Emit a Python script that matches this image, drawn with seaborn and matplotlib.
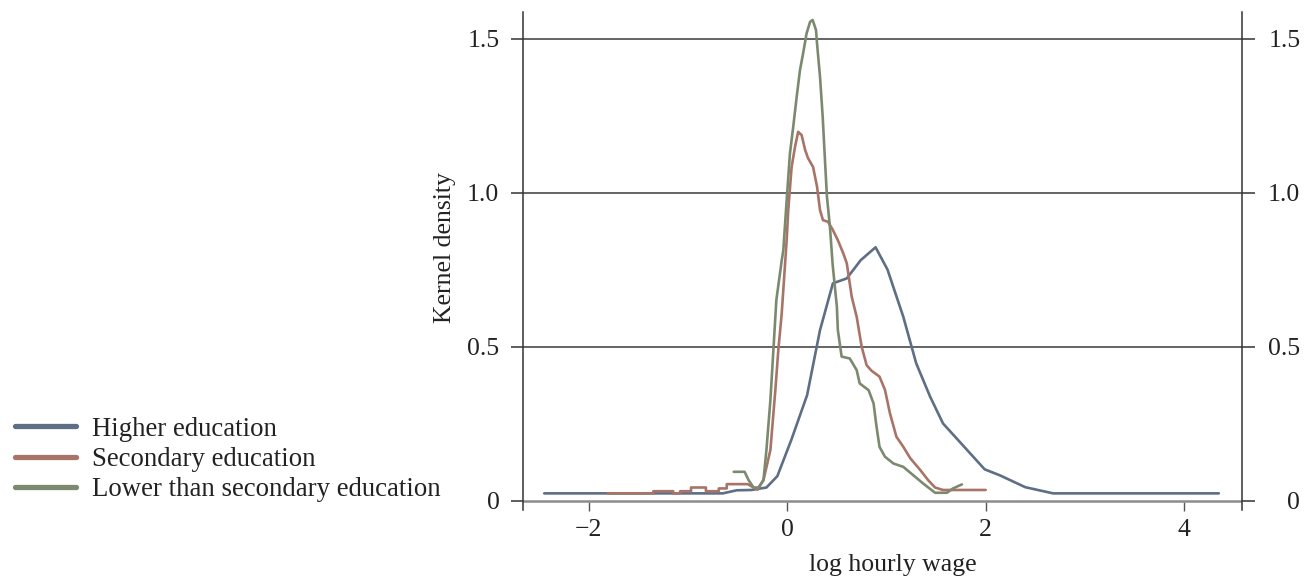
import matplotlib
matplotlib.use("Agg")
import numpy as np
import pandas as pd
import matplotlib.pyplot as plt
import seaborn as sns

# values
groups = ["Higher education", "Secondary education", "Lower than secondary education"]
colors = ["#5d6e85", "#a87468", "#7b8a6e"]

higher_x = [-2.45, -0.65, -0.51, -0.36, -0.21, -0.10, 0.04, 0.20, 0.33, 0.46, 0.60,
            0.74, 0.89, 1.01, 1.17, 1.30, 1.44, 1.57, 1.99, 2.14, 2.40, 2.68, 4.35]
higher_y = [0.024, 0.024, 0.034, 0.035, 0.043, 0.080, 0.197, 0.343, 0.554, 0.706, 0.722,
            0.781, 0.823, 0.751, 0.597, 0.446, 0.338, 0.251, 0.102, 0.083, 0.044, 0.024, 0.024]

secondary_x = [-1.81, -1.35, -1.35, -1.15, -1.15, -1.08, -1.08, -0.97, -0.97, -0.82,
               -0.82, -0.69, -0.69, -0.61, -0.61, -0.40, -0.30, -0.24, -0.17, -0.12,
               -0.09, -0.056, -0.006, 0.01, 0.044, 0.078, 0.11, 0.145, 0.18, 0.21,
               0.26, 0.30, 0.33, 0.36, 0.41, 0.46, 0.51, 0.565, 0.60, 0.65, 0.70,
               0.75, 0.80, 0.85, 0.93, 0.985, 1.035, 1.10, 1.17, 1.24, 1.34, 1.42,
               1.49, 1.57, 2.00]
secondary_y = [0.024, 0.024, 0.031, 0.031, 0.024, 0.024, 0.031, 0.031, 0.043, 0.043,
               0.031, 0.031, 0.040, 0.040, 0.054, 0.054, 0.036, 0.067, 0.165, 0.36,
               0.49, 0.608, 0.846, 0.944, 1.084, 1.149, 1.198, 1.187, 1.139, 1.112,
               1.084, 1.02, 0.944, 0.911, 0.906, 0.879, 0.846, 0.803, 0.771, 0.662,
               0.597, 0.50, 0.44, 0.422, 0.403, 0.36, 0.284, 0.208, 0.175, 0.138,
               0.10, 0.067, 0.043, 0.035, 0.035]

lower_x = [-0.54, -0.43, -0.39, -0.34, -0.29, -0.24, -0.21, -0.17, -0.14, -0.11,
           -0.056, -0.04, -0.006, 0.027, 0.06, 0.095, 0.128, 0.16, 0.195, 0.23,
           0.256, 0.29, 0.30, 0.33, 0.357, 0.38, 0.40, 0.43, 0.458, 0.50, 0.51,
           0.548, 0.63, 0.70, 0.73, 0.82, 0.87, 0.90, 0.93, 0.985, 1.07, 1.17,
           1.27, 1.37, 1.49, 1.61, 1.67, 1.76]
lower_y = [0.094, 0.094, 0.067, 0.043, 0.043, 0.067, 0.165, 0.327, 0.489, 0.652,
           0.78, 0.813, 0.976, 1.128, 1.214, 1.312, 1.398, 1.453, 1.518, 1.555,
           1.561, 1.528, 1.485, 1.377, 1.247, 1.106, 0.987, 0.89, 0.765, 0.63, 0.554,
           0.468, 0.462, 0.424, 0.381, 0.359, 0.316, 0.24, 0.175, 0.143, 0.121, 0.11,
           0.083, 0.056, 0.026, 0.026, 0.04, 0.053]

y_ticks = [0, 0.5, 1.0, 1.5]
y_tick_labels = ["0", "0.5", "1.0", "1.5"]
x_ticks = [-2, 0, 2, 4]

frames = []
for name, xs, ys in zip(groups, [higher_x, secondary_x, lower_x],
                        [higher_y, secondary_y, lower_y]):
    frames.append(pd.DataFrame({"wage": xs, "density": ys, "group": name}))
df = pd.concat(frames, ignore_index=True)

sns.set_theme(style="white")
plt.rcParams["font.family"] = ["Liberation Serif", "DejaVu Serif"]
plt.rcParams["font.size"] = 18.5
plt.rcParams["axes.unicode_minus"] = True

fig = plt.figure(figsize=(13.14, 5.76), dpi=100)
ax = fig.add_axes([523 / 1314, 66 / 576, 719 / 1314, 498 / 576])

# horizontal grid lines
for yv in y_ticks[1:]:
    ax.axhline(yv, color="#3a3a3a", lw=1.1, zorder=1)
ax.axhline(0, color="#8c8c8c", lw=1.8, zorder=1)

sns.lineplot(data=df, x="wage", y="density", hue="group", hue_order=groups,
             palette=colors, sort=False, estimator=None, linewidth=1.9,
             ax=ax, zorder=3)

ax.set_xlim(-2.664, 4.584)
ax.set_ylim(-0.030, 1.587)
ax.set_xticks(x_ticks)
ax.set_yticks(y_ticks)
ax.set_yticklabels(y_tick_labels)

for side in ["left", "right"]:
    ax.spines[side].set_color("#333333")
    ax.spines[side].set_linewidth(1.1)
ax.spines["top"].set_visible(False)
ax.spines["bottom"].set_visible(False)
ax.spines["bottom"].set_position(("data", -0.004))

ax.tick_params(axis="y", which="major", direction="out", length=9, width=1.1,
               color="#333333", pad=8, labelsize=18.5, left=True, right=True,
               labelleft=True, labelright=True, labelcolor="#222222")
ax.tick_params(axis="x", which="major", direction="out", length=6.5, width=1.0,
               color="#555555", pad=6, labelsize=18.5, bottom=True,
               labelcolor="#222222")

# right-hand labels line up on their right edge
offset = matplotlib.transforms.ScaledTranslation(25 / 72, 0, fig.dpi_scale_trans)
for t in ax.yaxis.get_major_ticks():
    t.label2.set_horizontalalignment("right")
    t.label2.set_transform(t.label2.get_transform() + offset)

ax.set_xlabel("log hourly wage", fontsize=18.5, color="#222222")
ax.set_ylabel("Kernel density", fontsize=18.5, color="#222222")
ax.xaxis.set_label_coords(0.514, -0.088)
ax.yaxis.set_label_coords(-0.093, 0.527)

handles, labels = ax.get_legend_handles_labels()
ax.get_legend().remove()
leg = fig.legend(handles, labels, loc="lower left",
                 bbox_to_anchor=(15 / 1314, 0.128), bbox_transform=fig.transFigure,
                 frameon=False, fontsize=19.3, handlelength=2.28,
                 handletextpad=0.6, labelspacing=0.2, borderpad=0,
                 borderaxespad=0)
for line in leg.get_lines():
    line.set_linewidth(3.8)
for txt in leg.get_texts():
    txt.set_color("#222222")

fig.savefig("out.png", dpi=100)
